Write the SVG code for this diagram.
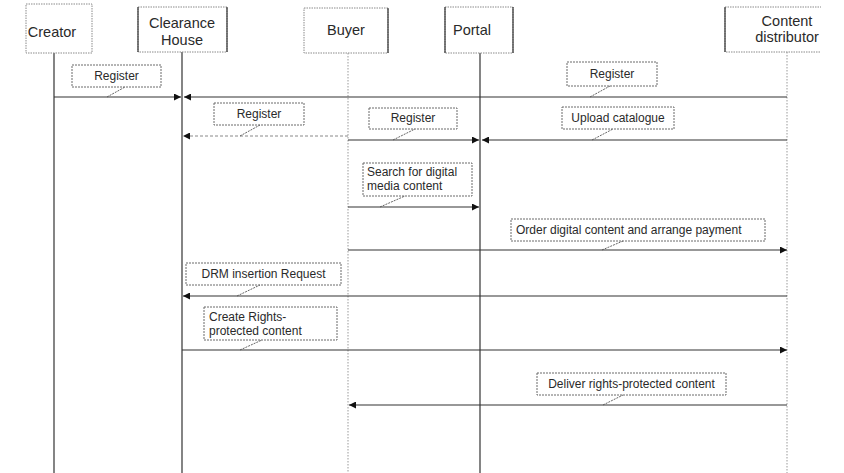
<svg xmlns="http://www.w3.org/2000/svg" width="844" height="473" viewBox="0 0 844 473">
  <style>
    .hdr { fill: #fff; stroke: #8a8a8a; stroke-width: 1; stroke-dasharray: 1.5 1; }
    .edge { stroke: #333; stroke-width: 1.2; }
    .hdrtxt { font-family: "Liberation Sans", Arial, sans-serif; font-size: 14.5px; fill: #2a2a2a; text-anchor: middle; }
    .life { stroke: #333; stroke-width: 1.2; fill: none; }
    .life-dot { stroke: #999; stroke-width: 1; stroke-dasharray: 1.5 1.5; fill: none; }
    .msg { stroke: #333; stroke-width: 1.1; fill: none; }
    .msg-faint { stroke: #888; stroke-width: 1; stroke-dasharray: 3 2; fill: none; }
    .lbl { fill: #fff; stroke: #6a6a6a; stroke-width: 1; stroke-dasharray: 2 1; }
    .lbltxt { font-family: "Liberation Sans", Arial, sans-serif; font-size: 12px; fill: #2a2a2a; text-anchor: middle; }
    .lbltxt-l { font-family: "Liberation Sans", Arial, sans-serif; font-size: 12px; fill: #2a2a2a; }
    .lead { stroke: #555; stroke-width: 0.9; stroke-dasharray: 2 1; fill: none; }
  </style>
  <defs>
    <marker id="arrow" viewBox="0 0 10 10" refX="10" refY="5" markerWidth="7.5" markerHeight="7" markerUnits="userSpaceOnUse" orient="auto">
      <path d="M0,0 L10,5 L0,10 z" fill="#111"/>
    </marker>
    <clipPath id="page">
      <rect x="0" y="0" width="821" height="473"/>
    </clipPath>
  </defs>
  <rect width="844" height="473" fill="#fff"/>

  <g clip-path="url(#page)">
    <!-- lifelines -->
    <g id="lifelines">
      <line class="life" x1="54" y1="53" x2="54" y2="473"/>
      <line class="life" x1="182" y1="52" x2="182" y2="473"/>
      <line class="life-dot" x1="348" y1="53" x2="348" y2="473"/>
      <line class="life" x1="480" y1="53" x2="480" y2="473"/>
      <line class="life-dot" x1="787" y1="52" x2="787" y2="473"/>
    </g>

    <!-- participants -->
    <g id="creator">
      <rect class="hdr" x="26" y="4" width="66" height="49"/>
      <text class="hdrtxt" x="52" y="37">Creator</text>
    </g>
    <g id="clearance-house">
      <rect class="hdr" x="138" y="7" width="89" height="45"/>
      <line class="edge" x1="138" y1="7" x2="138" y2="52"/>
      <line class="edge" x1="227" y1="7" x2="227" y2="52"/>
      <text class="hdrtxt" x="182" y="28">Clearance</text>
      <text class="hdrtxt" x="182" y="45">House</text>
    </g>
    <g id="buyer">
      <rect class="hdr" x="304" y="8" width="84" height="45"/>
      <line class="edge" x1="388" y1="8" x2="388" y2="53"/>
      <text class="hdrtxt" x="346" y="35">Buyer</text>
    </g>
    <g id="portal">
      <rect class="hdr" x="445" y="7" width="68" height="46"/>
      <line class="edge" x1="445" y1="7" x2="445" y2="53"/>
      <line class="edge" x1="513" y1="7" x2="513" y2="53"/>
      <text class="hdrtxt" x="472" y="35">Portal</text>
    </g>
    <g id="content-distributor">
      <rect class="hdr" x="725" y="7" width="110" height="45"/>
      <line class="edge" x1="725" y1="7" x2="725" y2="52"/>
      <text class="hdrtxt" x="787" y="26">Content</text>
      <text class="hdrtxt" x="787" y="42">distributor</text>
    </g>

    <!-- messages -->
    <g id="connectors">
      <line class="msg" x1="54" y1="97" x2="181" y2="97" marker-end="url(#arrow)"/>
      <line class="msg" x1="787" y1="97" x2="184" y2="97" marker-end="url(#arrow)"/>
      <line class="msg-faint" x1="348" y1="136" x2="183" y2="136" marker-end="url(#arrow)"/>
      <line class="msg" x1="348" y1="140" x2="479" y2="140" marker-end="url(#arrow)"/>
      <line class="msg" x1="787" y1="140" x2="482" y2="140" marker-end="url(#arrow)"/>
      <line class="msg" x1="348" y1="207" x2="479" y2="207" marker-end="url(#arrow)"/>
      <line class="msg" x1="348" y1="250" x2="787" y2="250" marker-end="url(#arrow)"/>
      <line class="msg" x1="787" y1="296" x2="183" y2="296" marker-end="url(#arrow)"/>
      <line class="msg" x1="182" y1="350" x2="787" y2="350" marker-end="url(#arrow)"/>
      <line class="msg" x1="787" y1="405" x2="349" y2="405" marker-end="url(#arrow)"/>
    </g>

    <!-- message labels -->
    <g id="label-creator-register">
      <rect class="lbl" x="72" y="65" width="89" height="22"/>
      <text class="lbltxt" x="116.5" y="80">Register</text>
      <line class="lead" x1="107" y1="97" x2="125" y2="87"/>
    </g>
    <g id="label-distributor-register">
      <rect class="lbl" x="567" y="62" width="90" height="24"/>
      <text class="lbltxt" x="612" y="78">Register</text>
      <line class="lead" x1="590" y1="97" x2="610" y2="86"/>
    </g>
    <g id="label-buyer-register-ch">
      <rect class="lbl" x="214" y="103" width="90" height="22"/>
      <text class="lbltxt" x="259" y="118">Register</text>
      <line class="lead" x1="240" y1="136" x2="260" y2="125"/>
    </g>
    <g id="label-buyer-register-portal">
      <rect class="lbl" x="369" y="108" width="88" height="21"/>
      <text class="lbltxt" x="413" y="122">Register</text>
      <line class="lead" x1="393" y1="140" x2="415" y2="129"/>
    </g>
    <g id="label-upload">
      <rect class="lbl" x="562" y="107" width="112" height="22"/>
      <text class="lbltxt" x="618" y="122">Upload catalogue</text>
      <line class="lead" x1="592" y1="140" x2="613" y2="129"/>
    </g>
    <g id="label-search">
      <rect class="lbl" x="363" y="163" width="109" height="33"/>
      <text class="lbltxt-l" x="367" y="176">Search for digital</text>
      <text class="lbltxt-l" x="367" y="190">media content</text>
      <line class="lead" x1="380" y1="207" x2="405" y2="196"/>
    </g>
    <g id="label-order">
      <rect class="lbl" x="511" y="219" width="254" height="22"/>
      <text class="lbltxt-l" x="516" y="234">Order digital content and arrange payment</text>
      <line class="lead" x1="602" y1="250" x2="623" y2="241"/>
    </g>
    <g id="label-drm">
      <rect class="lbl" x="186" y="263" width="155" height="22"/>
      <text class="lbltxt" x="263.5" y="278">DRM insertion Request</text>
      <line class="lead" x1="237" y1="296" x2="260" y2="285"/>
    </g>
    <g id="label-create">
      <rect class="lbl" x="204" y="307" width="133" height="33"/>
      <text class="lbltxt-l" x="209" y="321">Create Rights-</text>
      <text class="lbltxt-l" x="209" y="335">protected content</text>
      <line class="lead" x1="240" y1="350" x2="262" y2="340"/>
    </g>
    <g id="label-deliver">
      <rect class="lbl" x="537" y="373" width="189" height="22"/>
      <text class="lbltxt" x="631.5" y="388">Deliver rights-protected content</text>
      <line class="lead" x1="603" y1="405" x2="623" y2="395"/>
    </g>
  </g>
</svg>
